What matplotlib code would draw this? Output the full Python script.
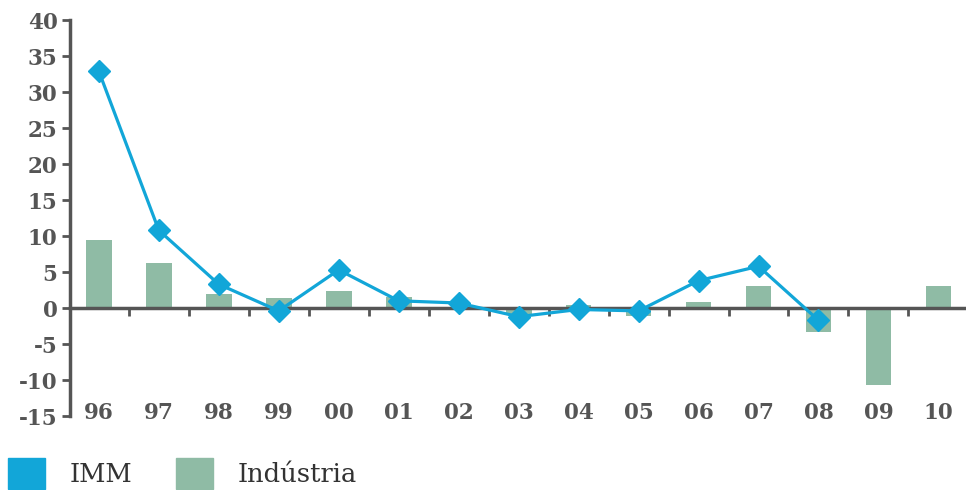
import numpy as np
import matplotlib.pyplot as plt
from matplotlib.patches import Patch

anos = ['96', '97', '98', '99', '00', '01', '02', '03', '04', '05', '06', '07', '08', '09', '10']
imm = [32.9, 10.8, 3.3, -0.4, 5.3, 1.0, 0.7, -1.2, -0.2, -0.4, 3.8, 5.8, -1.7]
industria = [9.4, 6.3, 2.0, 1.4, 2.3, 1.5, 0.1, -1.0, 0.4, -1.1, 0.8, 3.0, -3.3, -10.7, 3.0]
yticks = list(range(-15, 41, 5))

azul = '#12a6d8'
verde = '#8fbba5'
cinza = '#555555'

plt.rcParams['font.family'] = ['DejaVu Serif']

fig = plt.figure(figsize=(9.66, 4.9), dpi=100)
ax = fig.add_axes([0.0725, 0.151, 0.93, 0.808])

x = np.arange(len(anos))
ax.bar(x, industria, width=0.43, color=verde, zorder=2)
ax.plot(x[:len(imm)], imm, color=azul, lw=2.3, marker='D', ms=11, zorder=4)

ax.set_xlim(-0.48, 14.5)
ax.set_ylim(-15, 40)
ax.set_yticks(yticks)
ax.set_yticklabels([str(v) for v in yticks], fontsize=15.5, fontweight='bold', color=cinza)
ax.tick_params(axis='y', direction='out', length=6, width=2, color=cinza, pad=3)

for s in ['top', 'right']:
    ax.spines[s].set_visible(False)
ax.spines['left'].set_linewidth(2.5)
ax.spines['left'].set_color(cinza)
ax.spines['bottom'].set_position(('data', 0))
ax.spines['bottom'].set_linewidth(2.5)
ax.spines['bottom'].set_color(cinza)
ax.spines['bottom'].set_zorder(3)

ax.set_xticks(x + 0.5, minor=False)
ax.set_xticklabels([])
ax.tick_params(axis='x', direction='out', length=6, width=2, color=cinza)

tr = ax.get_xaxis_transform()
for xi, lab in zip(x, anos):
    ax.text(xi, 0.008, lab, transform=tr, ha='center', va='center',
            fontsize=15.5, fontweight='bold', color=cinza)

handles = [Patch(color=azul, label='IMM'), Patch(color=verde, label='Indústria')]
fig.legend(handles=handles, loc='lower left', bbox_to_anchor=(-0.005, -0.025),
           frameon=False, fontsize=18.5, handlelength=1.45, handleheight=1.5,
           handletextpad=0.95, columnspacing=1.7, ncol=2, borderpad=0,
           labelcolor='#333333')

fig.savefig('out.png', dpi=100)
